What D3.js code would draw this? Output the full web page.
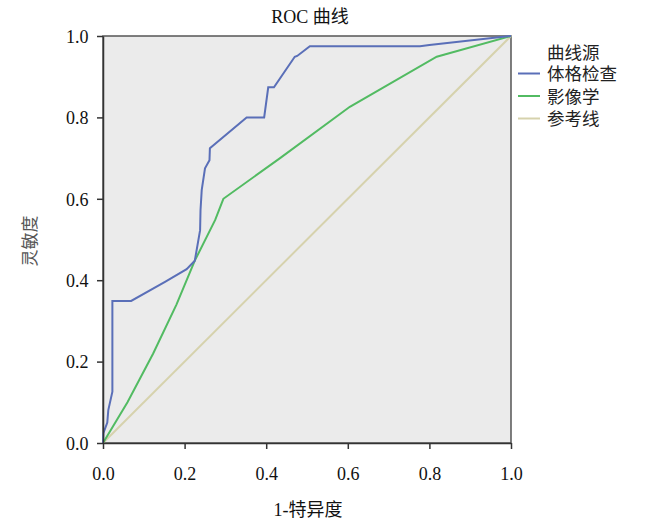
<!DOCTYPE html>
<html><head><meta charset="utf-8">
<script src="https://cdn.jsdelivr.net/npm/d3@7"></script>
<style>body{margin:0;background:#fff}</style>
</head><body>
<svg id="c" width="653" height="520"></svg>
<script>
const title = "ROC 曲线";
const xTitle = "1-特异度";
const yTitle = "灵敏度";
const legendTitle = "曲线源";
const seriesNames = ["体格检查", "影像学", "参考线"];
const seriesColors = ["#5a6fb8", "#52bb62", "#d6d2ad"];
const ticks = [0, 0.2, 0.4, 0.6, 0.8, 1.0];
const tickLabels = ["0.0", "0.2", "0.4", "0.6", "0.8", "1.0"];

const physicalX = [0, 0.001, 0.0105, 0.013, 0.023, 0.023, 0.069, 0.152, 0.205, 0.225, 0.238, 0.239, 0.242, 0.25, 0.261, 0.262, 0.352, 0.395, 0.405, 0.419, 0.47, 0.476, 0.507, 0.777, 0.80, 1.0];
const physicalY = [0, 0.024, 0.05, 0.081, 0.126, 0.349, 0.349, 0.396, 0.427, 0.448, 0.523, 0.572, 0.622, 0.675, 0.695, 0.724, 0.80, 0.80, 0.874, 0.874, 0.949, 0.951, 0.975, 0.975, 0.978, 1.0];
const imagingX = [0, 0.06, 0.123, 0.18, 0.225, 0.275, 0.295, 0.434, 0.605, 0.818, 1.0];
const imagingY = [0, 0.10, 0.22, 0.34, 0.448, 0.548, 0.600, 0.700, 0.826, 0.949, 1.0];
const refX = [0, 1];
const refY = [0, 1];

const svg = d3.select("#c");
const x = d3.scaleLinear().domain([0, 1]).range([103, 511]);
const y = d3.scaleLinear().domain([0, 1]).range([443, 36]);
const serif = "'Liberation Serif','DejaVu Serif',serif";
const mixed = "'Liberation Serif','Noto Sans CJK SC',serif";
const cjk = "'Noto Sans CJK SC','Noto Sans CJK JP',sans-serif";

svg.append("rect").attr("x", x(0)).attr("y", y(1)).attr("width", x(1) - x(0)).attr("height", y(0) - y(1))
  .attr("fill", "#ebebeb").attr("stroke", "#555").attr("stroke-width", 1.5);

const series = [
  {name: seriesNames[0], xs: physicalX, ys: physicalY, color: seriesColors[0]},
  {name: seriesNames[1], xs: imagingX, ys: imagingY, color: seriesColors[1]},
  {name: seriesNames[2], xs: refX, ys: refY, color: seriesColors[2]}
];
const line = d3.line().x(d => x(d[0])).y(d => y(d[1]));
series.slice().reverse().forEach(s => {
  svg.append("path").datum(s.xs.map((v, i) => [v, s.ys[i]]))
    .attr("d", line).attr("fill", "none").attr("stroke", s.color).attr("stroke-width", 2);
});

const xAxis = svg.append("g").attr("transform", `translate(0,${y(0)})`)
  .call(d3.axisBottom(x).tickValues(ticks).tickFormat((d, i) => tickLabels[i]).tickSize(6).tickSizeOuter(0));
const yAxis = svg.append("g").attr("transform", `translate(${x(0)},0)`)
  .call(d3.axisLeft(y).tickValues(ticks).tickFormat((d, i) => tickLabels[i]).tickSize(6).tickSizeOuter(0));
[xAxis, yAxis].forEach(a => {
  a.select(".domain").attr("stroke", "#333").attr("stroke-width", 1.5);
  a.selectAll(".tick line").attr("stroke", "#333").attr("stroke-width", 1.5);
  a.selectAll("text").attr("font-family", serif).attr("font-size", 18).attr("fill", "#111");
});
xAxis.selectAll("text").attr("dy", "1.55em");
yAxis.selectAll("text").attr("dx", "-0.3em").attr("dy", "0.35em");

svg.append("text").attr("x", 310).attr("y", 23).attr("text-anchor", "middle")
  .attr("font-family", mixed).attr("font-size", 18).attr("fill", "#111").text(title);
svg.append("text").attr("x", 308).attr("y", 516).attr("text-anchor", "middle")
  .attr("font-family", mixed).attr("font-size", 18).attr("fill", "#111").text(xTitle);
svg.append("text").attr("transform", "translate(36,241) rotate(-90)").attr("text-anchor", "middle")
  .attr("font-family", cjk).attr("font-size", 17).attr("fill", "#555").text(yTitle);

const lg = svg.append("g");
lg.append("text").attr("x", 547).attr("y", 59).attr("font-family", mixed).attr("font-size", 17.5).attr("fill", "#222").text(legendTitle);
series.forEach((s, i) => {
  const ly = 73.5 + i * 22.5;
  lg.append("line").attr("x1", 518).attr("x2", 540).attr("y1", ly).attr("y2", ly).attr("stroke", s.color).attr("stroke-width", 2);
  lg.append("text").attr("x", 547).attr("y", ly + 6.5).attr("font-family", mixed).attr("font-size", 17.5).attr("fill", "#222").text(s.name);
});
</script>
</body></html>
